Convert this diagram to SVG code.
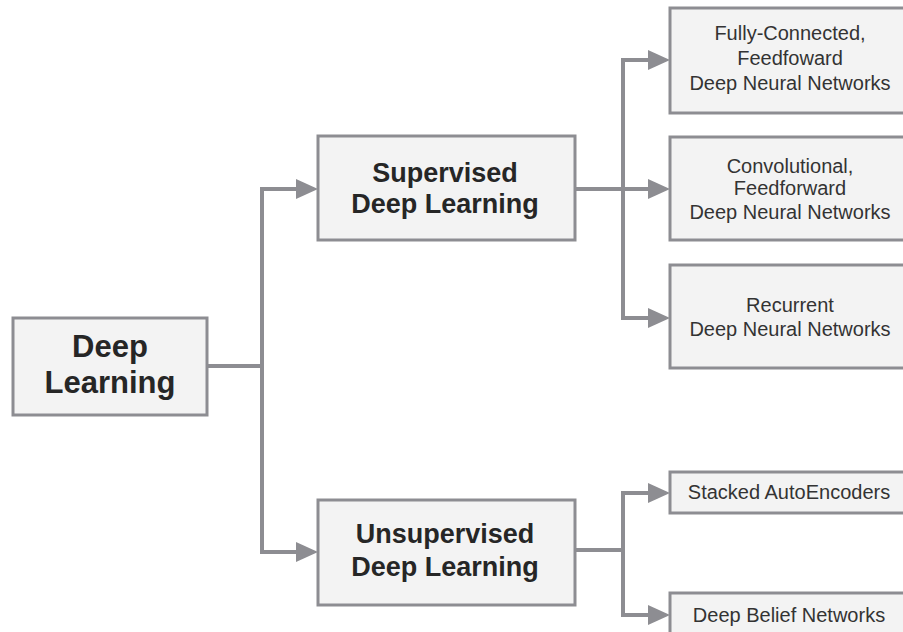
<svg xmlns="http://www.w3.org/2000/svg" width="903" height="632" viewBox="0 0 903 632">
<style>
.box{fill:#f3f3f3;stroke:#8d8d92;stroke-width:3}
.big{font-family:"Liberation Sans",Arial,sans-serif;font-weight:bold;fill:#262626;text-anchor:middle}
.small{font-family:"Liberation Sans",Arial,sans-serif;font-size:20px;fill:#333333;text-anchor:middle}
.conn{fill:none;stroke:#8d8d92;stroke-width:4}
</style>
<defs>
<marker id="arr" markerUnits="userSpaceOnUse" viewBox="0 0 22 20" markerWidth="22" markerHeight="20" refX="10" refY="10" orient="auto">
<path d="M0,0 L22,10 L0,20 Z" fill="#8d8d92"/>
</marker>
</defs>
<rect width="903" height="632" fill="#ffffff"/>
<g id="connectors">
<path class="conn" d="M207,366 H262 V189 H306" marker-end="url(#arr)"/>
<path class="conn" d="M262,366 V552 H306" marker-end="url(#arr)"/>
<path class="conn" d="M575,189 H623 V60 H658" marker-end="url(#arr)"/>
<path class="conn" d="M575,189 H658" marker-end="url(#arr)"/>
<path class="conn" d="M623,189 V318 H658" marker-end="url(#arr)"/>
<path class="conn" d="M575,550 H623 V493 H658" marker-end="url(#arr)"/>
<path class="conn" d="M623,550 V615 H658" marker-end="url(#arr)"/>
</g>
<g id="deep-learning">
<rect class="box" x="13" y="318" width="194" height="97"/>
<text class="big" font-size="31" x="110" y="357">Deep</text>
<text class="big" font-size="31" x="110" y="393">Learning</text>
</g>
<g id="supervised">
<rect class="box" x="318" y="136" width="257" height="104"/>
<text class="big" font-size="27" x="445" y="182">Supervised</text>
<text class="big" font-size="27" x="445" y="213">Deep Learning</text>
</g>
<g id="unsupervised">
<rect class="box" x="318" y="500" width="257" height="105"/>
<text class="big" font-size="27" x="445" y="543">Unsupervised</text>
<text class="big" font-size="27" x="445" y="576">Deep Learning</text>
</g>
<g id="fully-connected">
<rect class="box" x="670" y="8" width="245" height="105"/>
<text class="small" x="790" y="40">Fully-Connected,</text>
<text class="small" x="790" y="65">Feedfoward</text>
<text class="small" x="790" y="90">Deep Neural Networks</text>
</g>
<g id="convolutional">
<rect class="box" x="670" y="137" width="245" height="103"/>
<text class="small" x="790" y="173">Convolutional,</text>
<text class="small" x="790" y="195">Feedforward</text>
<text class="small" x="790" y="219">Deep Neural Networks</text>
</g>
<g id="recurrent">
<rect class="box" x="670" y="265" width="245" height="103"/>
<text class="small" x="790" y="312">Recurrent</text>
<text class="small" x="790" y="336">Deep Neural Networks</text>
</g>
<g id="stacked-autoencoders">
<rect class="box" x="670" y="472" width="245" height="41"/>
<text class="small" x="789" y="499">Stacked AutoEncoders</text>
</g>
<g id="deep-belief-networks">
<rect class="box" x="670" y="593" width="245" height="50"/>
<text class="small" x="789" y="622">Deep Belief Networks</text>
</g>
</svg>
